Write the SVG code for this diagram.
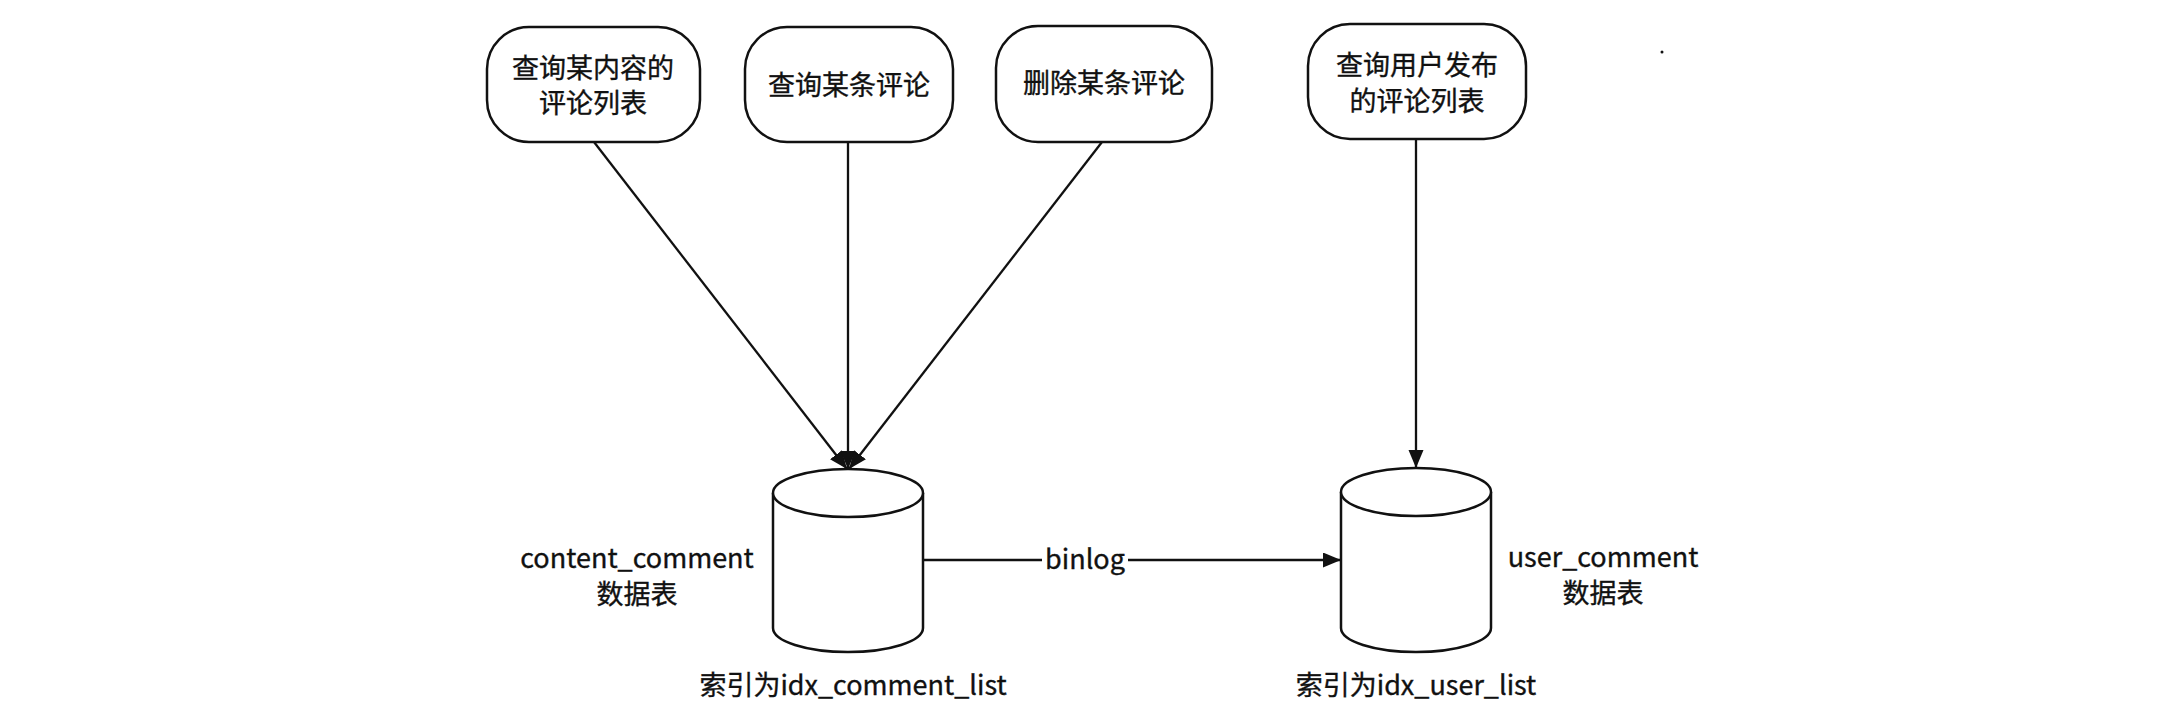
<svg xmlns="http://www.w3.org/2000/svg" width="2158" height="721" viewBox="0 0 2158 721">
<defs>
<style>
.box{fill:#fff;stroke:#111;stroke-width:2.5}
.cyl{fill:#fff;stroke:#111;stroke-width:2.5}
.edge{fill:none;stroke:#111;stroke-width:2.3}
.t{font-family:"Noto Sans CJK SC","Noto Sans",sans-serif;font-size:27px;fill:#111;text-anchor:middle;stroke:#111;stroke-width:0.35}
</style>
<marker id="arr" markerUnits="userSpaceOnUse" markerWidth="20" markerHeight="16" refX="18" refY="7.5" orient="auto">
<path d="M0,0 L18,7.5 L0,15 z" fill="#111"/>
</marker>
</defs>
<rect width="2158" height="721" fill="#fff"/>
<g id="connectors">
<line class="edge" x1="594" y1="142" x2="847" y2="469" marker-end="url(#arr)"/>
<line class="edge" x1="848" y1="142" x2="848" y2="469" marker-end="url(#arr)"/>
<line class="edge" x1="1102" y1="142" x2="849" y2="469" marker-end="url(#arr)"/>
<line class="edge" x1="1416" y1="139" x2="1416" y2="468" marker-end="url(#arr)"/>
<line class="edge" x1="923" y1="560" x2="1042" y2="560"/>
<line class="edge" x1="1128" y1="560" x2="1341" y2="560" marker-end="url(#arr)"/>
<text class="t" x="1085" y="569">binlog</text>
</g>
<g id="n1">
<rect class="box" x="487" y="27" width="213" height="115" rx="42" ry="42"/>
<text class="t" x="593" y="78">查询某内容的</text>
<text class="t" x="593" y="113">评论列表</text>
</g>
<g id="n2">
<rect class="box" x="745" y="27" width="208" height="115" rx="42" ry="42"/>
<text class="t" x="849" y="95">查询某条评论</text>
</g>
<g id="n3">
<rect class="box" x="996" y="26" width="216" height="116" rx="42" ry="42"/>
<text class="t" x="1104" y="93">删除某条评论</text>
</g>
<g id="n4">
<rect class="box" x="1308" y="24" width="218" height="115" rx="42" ry="42"/>
<text class="t" x="1417" y="75">查询用户发布</text>
<text class="t" x="1417" y="111">的评论列表</text>
</g>
<g id="db1">
<path class="cyl" d="M773,493 L773,628 A75,24 0 0 0 923,628 L923,493 A75,24 0 0 0 773,493 Z"/>
<path class="cyl" fill="none" d="M773,493 A75,24 0 0 0 923,493"/>
<text class="t" x="637" y="568">content_comment</text>
<text class="t" x="637" y="604">数据表</text>
<text class="t" x="853" y="695">索引为idx_comment_list</text>
</g>
<g id="db2">
<path class="cyl" d="M1341,492 L1341,628 A75,24 0 0 0 1491,628 L1491,492 A75,24 0 0 0 1341,492 Z"/>
<path class="cyl" fill="none" d="M1341,492 A75,24 0 0 0 1491,492"/>
<text class="t" x="1603" y="567">user_comment</text>
<text class="t" x="1603" y="603">数据表</text>
<text class="t" x="1416" y="695">索引为idx_user_list</text>
</g>
<circle cx="1662" cy="52" r="1.5" fill="#111"/>
</svg>
